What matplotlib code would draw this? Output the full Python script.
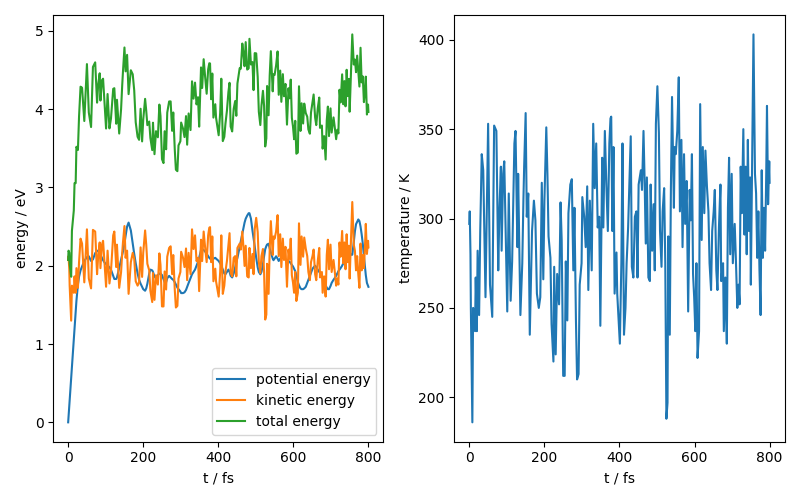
"""
Energy and temperature traces of a short MD run.
Left: potential / kinetic / total energy, right: temperature.
"""

import numpy as np
import matplotlib
matplotlib.use('Agg')
import matplotlib.pyplot as plt


# ============================================================================
# DATA
# ============================================================================

time_fs = [
    0, 1, 3, 4, 8, 10, 15, 17, 20, 22, 26, 29, 33, 37, 43, 50, 55, 61, 66, 72,
    77, 80, 84, 86, 90, 93, 97, 101, 105, 110, 114, 120, 123, 128, 130, 136,
    141, 144, 146, 150, 153, 157, 161, 167, 172, 176, 180, 185, 189, 193, 197,
    200, 205, 208, 211, 216, 219, 224, 226, 230, 234, 239, 243, 246, 250, 254,
    257, 261, 264, 269, 273, 277, 280, 284, 287, 291, 294, 299, 301, 306, 310,
    314, 317, 321, 326, 330, 334, 338, 342, 346, 349, 354, 357, 361, 365, 369,
    373, 376, 378, 381, 384, 387, 392, 394, 401, 405, 408, 412, 416, 419, 423,
    427, 430, 433, 437, 441, 445, 448, 451, 457, 460, 464, 467, 470, 473, 477,
    481, 483, 487, 491, 494, 497, 501, 505, 508, 512, 515, 519, 522, 525, 528,
    530, 534, 537, 540, 545, 547, 550, 554, 558, 561, 565, 568, 572, 575, 579,
    583, 587, 590, 593, 596, 599, 602, 605, 608, 612, 615, 619, 622, 626, 629,
    633, 637, 640, 644, 647, 651, 654, 658, 661, 665, 669, 671, 676, 678, 682,
    686, 689, 692, 695, 699, 702, 707, 710, 714, 717, 720, 723, 726, 730, 733,
    736, 739, 742, 745, 748, 750, 754, 757, 761, 764, 767, 770, 773, 776, 779,
    782, 785, 788, 791, 793, 796, 799, 800,
]

temperature_K = [
    297, 304, 280, 250, 186, 250, 237, 267, 237, 282, 246, 293, 336, 327, 256,
    353, 263, 245, 352, 349, 271, 304, 329, 282, 325, 332, 290, 248, 314, 254,
    276, 342, 349, 284, 325, 246, 275, 310, 329, 359, 301, 314, 235, 293, 310,
    299, 258, 250, 256, 320, 266, 310, 351, 325, 290, 278, 241, 220, 273, 224,
    269, 252, 309, 288, 212, 212, 276, 243, 303, 319, 322, 271, 306, 243, 210,
    213, 263, 275, 312, 301, 284, 318, 260, 310, 271, 353, 317, 342, 295, 301,
    240, 334, 295, 349, 319, 293, 342, 356, 357, 293, 340, 258, 281, 258, 230,
    275, 342, 235, 250, 275, 295, 325, 346, 273, 267, 301, 304, 267, 319, 327,
    316, 349, 321, 286, 323, 267, 265, 319, 282, 308, 271, 353, 374, 348, 293,
    273, 304, 317, 275, 188, 197, 290, 235, 317, 368, 306, 340, 336, 349, 379,
    304, 344, 284, 336, 297, 321, 248, 316, 299, 336, 269, 256, 237, 275, 222,
    237, 364, 288, 340, 303, 338, 318, 304, 275, 260, 293, 304, 316, 271, 260,
    295, 319, 265, 275, 237, 267, 230, 306, 334, 280, 325, 275, 297, 278, 250,
    263, 252, 329, 303, 350, 291, 329, 280, 344, 293, 323, 263, 344, 403, 325,
    314, 278, 304, 271, 246, 327, 278, 306, 282, 325, 363, 308, 332, 320,
]

potential_eV = [
    0.00, 0.07, 0.21, 0.28, 0.56, 0.70, 1.05, 1.19, 1.40, 1.55, 1.76, 1.86,
    1.94, 1.99, 2.06, 2.11, 2.12, 2.06, 2.08, 2.16, 2.19, 2.19, 2.16, 2.14,
    2.10, 2.07, 2.04, 2.02, 2.00, 1.98, 1.95, 1.87, 1.83, 1.83, 1.85, 1.97,
    2.08, 2.14, 2.18, 2.28, 2.38, 2.50, 2.55, 2.45, 2.28, 2.15, 2.03, 1.90,
    1.82, 1.77, 1.73, 1.70, 1.68, 1.71, 1.77, 1.90, 1.95, 1.94, 1.92, 1.86,
    1.84, 1.88, 1.90, 1.90, 1.88, 1.83, 1.79, 1.79, 1.84, 1.87, 1.85, 1.83,
    1.82, 1.79, 1.76, 1.72, 1.70, 1.67, 1.65, 1.65, 1.66, 1.69, 1.73, 1.78,
    1.84, 1.89, 1.92, 1.95, 2.00, 2.05, 2.10, 2.20, 2.21, 2.20, 2.18, 2.15,
    2.12, 2.10, 2.09, 2.08, 2.08, 2.09, 2.10, 2.09, 2.06, 2.03, 2.00, 1.95,
    1.90, 1.89, 1.92, 1.95, 1.92, 1.87, 1.85, 1.90, 1.98, 2.05, 2.10, 2.24,
    2.31, 2.40, 2.47, 2.55, 2.60, 2.64, 2.67, 2.67, 2.60, 2.45, 2.35, 2.25,
    2.10, 1.98, 1.92, 1.89, 1.92, 2.02, 2.12, 2.21, 2.25, 2.27, 2.28, 2.22,
    2.17, 2.09, 2.07, 2.09, 2.12, 2.09, 2.06, 2.09, 2.11, 2.10, 2.09, 2.08,
    2.07, 2.06, 2.05, 2.03, 2.01, 1.99, 1.96, 1.93, 1.88, 1.79, 1.75, 1.71,
    1.70, 1.70, 1.71, 1.73, 1.78, 1.82, 1.87, 1.91, 1.96, 1.98, 2.00, 1.98,
    1.95, 1.92, 1.91, 1.87, 1.84, 1.79, 1.75, 1.72, 1.70, 1.70, 1.74, 1.78,
    1.82, 1.84, 1.87, 1.90, 1.93, 1.95, 1.97, 2.00, 2.03, 2.06, 2.08, 2.10,
    2.12, 2.13, 2.13, 2.14, 2.14, 2.30, 2.44, 2.53, 2.56, 2.59, 2.57, 2.50,
    2.40, 2.28, 2.12, 1.98, 1.88, 1.78, 1.74, 1.73,
]

# kinetic energy from temperature: E_kin = 3/2 N k_B T
N_ATOMS = 54
K_B = 8.617333e-5  # eV / K


def main():
    t = np.array(time_fs)
    temp = np.array(temperature_K, dtype=float)
    epot = np.array(potential_eV)
    ekin = 1.5 * N_ATOMS * K_B * temp
    etot = epot + ekin

    fig, (ax1, ax2) = plt.subplots(1, 2, figsize=(8, 5), dpi=100)

    ax1.plot(t, epot, label='potential energy')
    ax1.plot(t, ekin, label='kinetic energy')
    ax1.plot(t, etot, label='total energy')
    ax1.set_xlabel('t / fs')
    ax1.set_ylabel('energy / eV')
    ax1.legend(loc='lower right')

    ax2.plot(t, temp)
    ax2.set_xlabel('t / fs')
    ax2.set_ylabel('temperature / K')

    plt.tight_layout()
    plt.savefig('out.png', dpi=100)
    plt.close()


if __name__ == '__main__':
    main()
